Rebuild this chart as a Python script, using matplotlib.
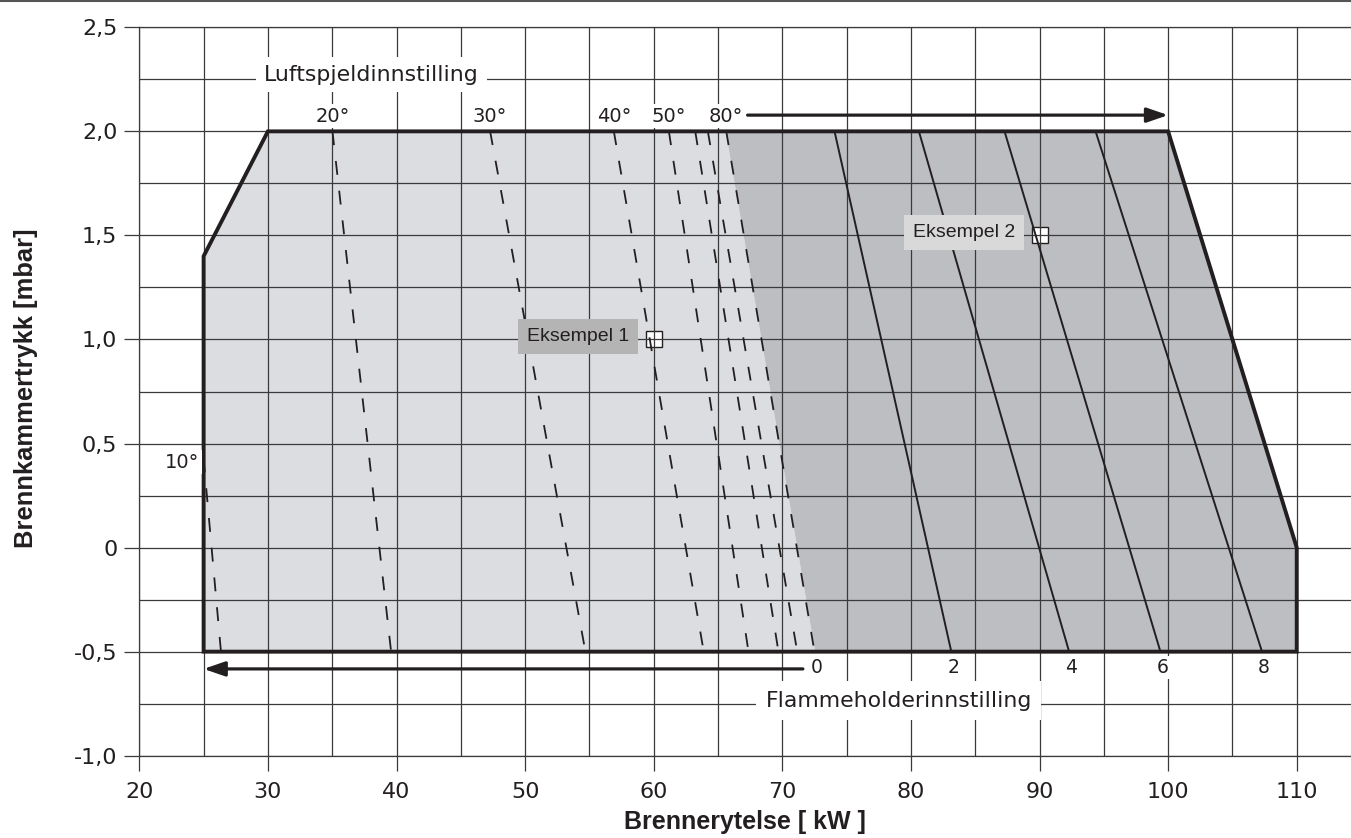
import matplotlib
matplotlib.use('Agg')
import matplotlib.pyplot as plt
from matplotlib.patches import Polygon
from matplotlib.lines import Line2D
from matplotlib.ticker import FixedLocator, FixedFormatter, MultipleLocator

plt.rcParams['font.family'] = ['DejaVu Sans']
plt.rcParams['lines.scale_dashes'] = False

# ---------------- data ----------------
x_ticks = [20, 30, 40, 50, 60, 70, 80, 90, 100, 110]
x_tick_labels = ['20', '30', '40', '50', '60', '70', '80', '90', '100', '110']
y_ticks = [-1.0, -0.5, 0.0, 0.5, 1.0, 1.5, 2.0, 2.5]
y_tick_labels = ['-1,0', '-0,5', '0', '0,5', '1,0', '1,5', '2,0', '2,5']

# working field outline (kW, mbar)
outline_x = [25, 25, 30, 100, 110, 110]
outline_y = [-0.5, 1.4, 2.0, 2.0, 0.0, -0.5]

# air damper (Luftspjeld) lines, from y=2.0 to y=-0.5
air_labels = ['10°', '20°', '30°', '40°', '50°', '', '', '80°']
air_top_x = [22.7, 35.02, 47.28, 56.90, 61.18, 63.23, 64.21, 65.64]
air_bottom_x = [26.35, 39.58, 54.69, 63.89, 67.37, 69.70, 71.16, 72.50]
line_top_y = 2.0
line_bottom_y = -0.5

# flame holder (Flammeholder) lines, from y=2.0 to y=-0.5
flame_labels = ['0', '2', '4', '6', '8']
flame_top_x = [65.60, 74.06, 80.62, 87.28, 94.36]
flame_bottom_x = [72.55, 83.14, 92.30, 99.40, 107.30]

# examples
example_labels = ['Eksempel 1', 'Eksempel 2']
example_x = [60, 90]
example_y = [1.0, 1.5]

# ---------------- style ----------------
INK = '#231f20'
GRID = '#3a3a3a'
LIGHT = '#dcdde0'
DARK = '#bdbec2'
LABEL_FONT = ['Liberation Sans', 'DejaVu Sans']

fig = plt.figure(figsize=(13.51, 8.38), dpi=100)
ax = fig.add_axes([139.3 / 1351, (838 - 755.7) / 838, (1351 - 139.3) / 1351, 728.4 / 838])
ax.set_xlim(20, 114.22)
ax.set_ylim(-1.0, 2.5)

# fills
light_poly = [(outline_x[0], outline_y[0]), (outline_x[1], outline_y[1]), (outline_x[2], outline_y[2]),
              (flame_top_x[0], line_top_y), (flame_bottom_x[0], line_bottom_y)]
dark_poly = [(flame_top_x[0], line_top_y), (outline_x[3], outline_y[3]), (outline_x[4], outline_y[4]),
             (outline_x[5], outline_y[5]), (flame_bottom_x[0], line_bottom_y)]
ax.add_patch(Polygon(light_poly, closed=True, facecolor=LIGHT, edgecolor='none', zorder=0.2))
ax.add_patch(Polygon(dark_poly, closed=True, facecolor=DARK, edgecolor='none', zorder=0.2))

# grid
ax.xaxis.set_major_locator(FixedLocator(x_ticks))
ax.xaxis.set_major_formatter(FixedFormatter(x_tick_labels))
ax.yaxis.set_major_locator(FixedLocator(y_ticks))
ax.yaxis.set_major_formatter(FixedFormatter(y_tick_labels))
ax.xaxis.set_minor_locator(MultipleLocator(5))
ax.yaxis.set_minor_locator(MultipleLocator(0.25))
ax.set_axisbelow(False)
ax.grid(True, which='both', color=GRID, linewidth=0.9, zorder=2.5)
ax.tick_params(which='major', length=10.8, width=0.9, color=GRID, labelsize=16, direction='out')
ax.tick_params(axis='x', which='major', pad=8)
ax.tick_params(axis='y', which='major', pad=5)
ax.tick_params(which='minor', length=0)
for side in ['left', 'bottom', 'top']:
    ax.spines[side].set_color(GRID)
    ax.spines[side].set_linewidth(0.9)
ax.spines['right'].set_visible(False)

# markers for examples (under grid so the grid cross shows)
ax.plot(example_x, example_y, linestyle='none', marker='s', markersize=11.5,
        markerfacecolor='white', markeredgecolor=INK, markeredgewidth=1.0, zorder=2.0)

# outline patch (also used as clip path)
outline_patch = Polygon(list(zip(outline_x, outline_y)), closed=True, facecolor='none',
                        edgecolor=INK, linewidth=2.8, joinstyle='miter', zorder=4)
ax.add_patch(outline_patch)

# air damper dashed lines
for i in range(len(air_labels)):
    ln, = ax.plot([air_top_x[i], air_bottom_x[i]], [line_top_y, line_bottom_y],
                  color=INK, linewidth=1.3, zorder=3)
    ln.set_dashes((10, 11.5))
    ln.set_clip_path(outline_patch)

# flame holder solid lines (0 is the shade boundary)
for i in range(1, len(flame_labels)):
    ax.plot([flame_top_x[i], flame_bottom_x[i]], [line_top_y, line_bottom_y],
            color=INK, linewidth=1.4, zorder=3)

white_box = dict(boxstyle='square,pad=0.12', facecolor='white', edgecolor='none')

# air damper labels
for i, lab in enumerate(air_labels):
    if not lab:
        continue
    if i == 0:
        ax.text(23.35, 0.41, lab, ha='center', va='center', fontsize=14, color=INK,
                zorder=5, bbox=white_box)
    else:
        ax.text(air_top_x[i], 2.073, lab, ha='center', va='center', fontsize=14, color=INK,
                zorder=5, bbox=white_box)

# flame holder labels
for i, lab in enumerate(flame_labels):
    ax.text(flame_bottom_x[i] + 0.15, -0.576, lab, ha='center', va='center', fontsize=13.5,
            color=INK, zorder=5, bbox=white_box)

# arrows
ax.annotate('', xy=(100, 2.078), xytext=(67.3, 2.078),
            arrowprops=dict(arrowstyle='-|>,head_length=0.64,head_width=0.22', mutation_scale=20,
                            linewidth=2.3, color=INK, shrinkA=0, shrinkB=0), zorder=5)
ax.annotate('', xy=(25, -0.583), xytext=(71.6, -0.583),
            arrowprops=dict(arrowstyle='-|>,head_length=0.64,head_width=0.22', mutation_scale=20,
                            linewidth=2.3, color=INK, shrinkA=0, shrinkB=0), zorder=5)

# section titles
ax.text(38.05, 2.273, 'Luftspjeldinnstilling', ha='center', va='center', fontsize=15.8, color=INK,
        zorder=5, bbox=dict(boxstyle='square,pad=0.36', facecolor='white', edgecolor='none'))
ax.text(79.04, -0.735, 'Flammeholderinnstilling', ha='center', va='center', fontsize=15.8, color=INK,
        zorder=5, bbox=dict(boxstyle='square,pad=0.42', facecolor='white', edgecolor='none'))

# example labels
box_colors = ['#b4b4b4', '#d9d9d9']
for lab, ex, ey, bc in zip(example_labels, example_x, example_y, box_colors):
    ax.annotate(lab, xy=(ex, ey), xytext=(-54.3, 2.4), textcoords='offset points',
                ha='center', va='center', fontsize=14, color=INK, zorder=5, family=LABEL_FONT,
                bbox=dict(boxstyle='square,pad=0.46', facecolor=bc, edgecolor='none'))

# axis labels
ax.set_xlabel('Brennerytelse [ kW ]', fontsize=18, fontweight='bold', color=INK, family=LABEL_FONT)
ax.xaxis.set_label_coords(0.5, -0.075)
ax.set_ylabel('Brennkammertrykk [mbar]', fontsize=18.4, fontweight='bold', color=INK, family=LABEL_FONT)
ax.yaxis.set_label_coords(-0.0833, 0.505)

for lab in ax.get_xticklabels() + ax.get_yticklabels():
    lab.set_color(INK)

# page separator line at the very top
fig.add_artist(Line2D([0, 1], [0.9994, 0.9994], transform=fig.transFigure, color='#555555', linewidth=1.5))

fig.savefig('out.png', dpi=100)
